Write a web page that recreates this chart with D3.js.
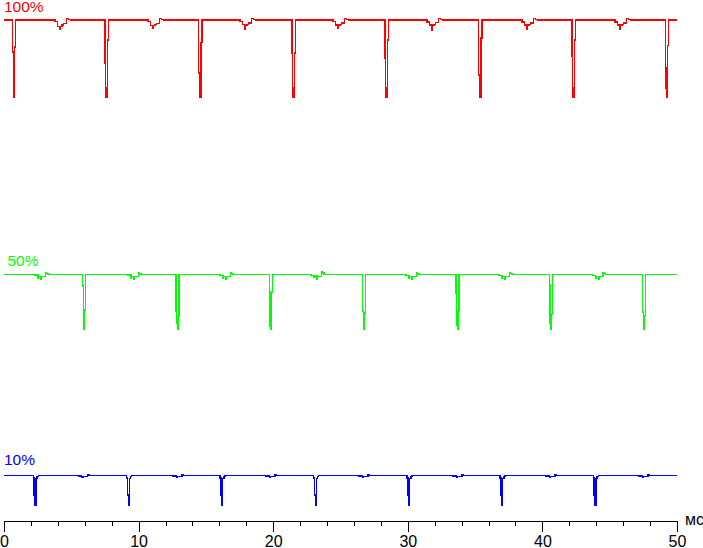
<!DOCTYPE html>
<html>
<head>
<meta charset="utf-8">
<script src="https://cdn.jsdelivr.net/npm/d3@7"></script>
<style>
  html, body { margin: 0; padding: 0; background: #fff; }
  svg { display: block; }
  text { font-family: "Liberation Sans", Arial, sans-serif; }
</style>
</head>
<body>
<svg id="chart" width="703" height="548"></svg>
<script>
// ---- data (time in ms, brightness in %) ----
const seriesNames = ["100%", "50%", "10%"];
const seriesColors = ["#ff0000", "#00ff00", "#0000ff"];

const red100 = [
  [0, 100],
  [0.617, 93.7], [0.667, 93.7], [0.707, 84.8], [0.795, 94.7], [0.870, 100],
  [3.789, 99.66], [3.960, 98.67], [4.160, 98.16], [4.183, 98.67], [4.309, 99.0], [4.406, 99.35], [4.658, 100.34], [4.777, 100.14], [4.978, 100],
  [7.504, 91.5], [7.554, 86.5], [7.594, 84.8], [7.674, 96.0], [7.754, 100],
  [10.698, 99.66], [10.869, 98.9], [11.069, 98.4], [11.092, 98.9], [11.218, 99.1], [11.315, 99.35], [11.567, 100.34], [11.686, 100.14], [11.887, 100],
  [14.465, 89.5], [14.515, 86.5], [14.555, 84.8], [14.635, 95.5], [14.715, 100],
  [17.533, 99.7], [17.704, 99.1], [17.904, 98.2], [17.927, 99.0], [18.053, 99.1], [18.150, 99.45], [18.402, 100.34], [18.521, 100.14], [18.722, 100],
  [21.397, 93.5], [21.447, 86.5], [21.487, 84.8], [21.567, 93.5], [21.647, 100],
  [24.443, 99.7], [24.614, 99.0], [24.814, 98.3], [24.837, 98.9], [24.963, 99.1], [25.060, 99.4], [25.312, 100.34], [25.431, 100.14], [25.632, 100],
  [28.306, 92.5], [28.356, 86.5], [28.396, 84.8], [28.476, 96.0], [28.556, 100],
  [31.427, 99.6], [31.598, 99.0], [31.798, 98.0], [31.821, 99.0], [31.947, 99.1], [32.044, 99.5], [32.296, 100.34], [32.415, 100.14], [32.616, 100],
  [35.267, 89.1], [35.317, 86.5], [35.357, 84.8], [35.437, 96.4], [35.517, 100],
  [38.484, 99.6], [38.655, 99.0], [38.855, 98.2], [38.878, 99.0], [39.004, 99.1], [39.101, 99.45], [39.353, 100.34], [39.472, 100.14], [39.673, 100],
  [42.199, 92.9], [42.249, 86.5], [42.289, 84.8], [42.369, 96.0], [42.449, 100],
  [45.394, 99.6], [45.565, 99.0], [45.765, 98.2], [45.788, 99.0], [45.914, 99.1], [46.011, 99.45], [46.263, 100.34], [46.382, 100.14], [46.583, 100],
  [49.131, 90.5], [49.181, 86.5], [49.221, 84.8], [49.301, 95.0], [49.381, 100],
  [50, 100]
];

const green50 = [
  [0, 49.64],
  [2.303, 49.50], [2.526, 48.85], [2.578, 49.17], [2.749, 48.70], [2.786, 49.17], [3.083, 50.04], [3.157, 49.80], [3.269, 49.64],
  [5.847, 47.33], [5.897, 39.86], [5.947, 38.67], [5.997, 42.57], [6.067, 49.64],
  [9.212, 49.50], [9.435, 48.9], [9.487, 49.2], [9.658, 48.75], [9.695, 49.2], [9.992, 50.04], [10.066, 49.8], [10.178, 49.64],
  [12.779, 42.4], [12.829, 40.0], [12.879, 38.67], [12.929, 41.5], [12.999, 49.64],
  [16.048, 49.45], [16.271, 48.85], [16.323, 49.17], [16.494, 48.7], [16.531, 49.17], [16.828, 50.04], [16.902, 49.8], [17.014, 49.64],
  [19.710, 46.2], [19.760, 39.3], [19.810, 38.67], [19.860, 46.0], [19.930, 49.64],
  [22.808, 49.45], [23.031, 49.1], [23.083, 49.3], [23.254, 48.7], [23.291, 49.2], [23.588, 50.1], [23.662, 49.9], [23.774, 49.64],
  [26.649, 42.4], [26.699, 40.0], [26.749, 38.67], [26.799, 42.0], [26.869, 49.64],
  [29.866, 49.45], [30.089, 48.9], [30.141, 49.2], [30.312, 48.75], [30.349, 49.2], [30.646, 50.04], [30.720, 49.8], [30.832, 49.64],
  [33.581, 45.9], [33.631, 39.5], [33.681, 38.67], [33.731, 42.5], [33.801, 49.64],
  [36.776, 49.45], [36.999, 48.9], [37.051, 49.2], [37.222, 48.75], [37.259, 49.2], [37.556, 50.04], [37.630, 49.8], [37.742, 49.64],
  [40.513, 47.5], [40.563, 40.0], [40.613, 38.67], [40.663, 41.8], [40.733, 49.64],
  [43.737, 49.45], [43.960, 48.9], [44.012, 49.2], [44.183, 48.75], [44.220, 49.2], [44.517, 50.04], [44.591, 49.8], [44.703, 49.64],
  [47.452, 42.2], [47.502, 39.8], [47.552, 38.67], [47.602, 41.5], [47.672, 49.64],
  [50, 49.64]
];

const blue10 = [
  [0, 9.84],
  [2.177, 9.31], [2.247, 5.9], [2.307, 3.82], [2.367, 9.2], [2.467, 9.65], [2.547, 9.84],
  [5.520, 9.70], [5.765, 9.45], [5.869, 9.56], [6.189, 10.04], [6.315, 9.84],
  [9.116, 9.31], [9.186, 5.9], [9.246, 3.82], [9.306, 9.2], [9.406, 9.65], [9.486, 9.84],
  [12.556, 9.70], [12.801, 9.45], [12.905, 9.56], [13.225, 10.04], [13.351, 9.84],
  [16.048, 9.31], [16.118, 5.9], [16.178, 3.82], [16.238, 9.2], [16.338, 9.65], [16.418, 9.84],
  [19.465, 9.70], [19.710, 9.45], [19.814, 9.56], [20.134, 10.04], [20.260, 9.84],
  [23.009, 9.31], [23.079, 5.9], [23.139, 3.82], [23.199, 9.2], [23.299, 9.65], [23.379, 9.84],
  [26.374, 9.70], [26.619, 9.45], [26.723, 9.56], [27.043, 10.04], [27.169, 9.84],
  [29.941, 9.31], [30.011, 5.9], [30.071, 3.82], [30.131, 9.2], [30.231, 9.65], [30.311, 9.84],
  [33.358, 9.70], [33.603, 9.45], [33.707, 9.56], [34.027, 10.04], [34.153, 9.84],
  [36.850, 9.31], [36.920, 5.9], [36.980, 3.82], [37.040, 9.2], [37.140, 9.65], [37.220, 9.84],
  [40.267, 9.70], [40.512, 9.45], [40.616, 9.56], [40.936, 10.04], [41.062, 9.84],
  [43.782, 9.31], [43.852, 5.9], [43.912, 3.82], [43.972, 9.2], [44.072, 9.65], [44.152, 9.84],
  [47.177, 9.70], [47.422, 9.45], [47.526, 9.56], [47.846, 10.04], [47.972, 9.84],
  [50, 9.84]
];

const majorTicks = [0, 10, 20, 30, 40, 50];
const minorTicks = [2, 4, 6, 8, 12, 14, 16, 18, 22, 24, 26, 28, 32, 34, 36, 38, 42, 44, 46, 48];
const axisUnit = "мс";

// ---- drawing ----
const svg = d3.select("#chart");
const x = d3.scaleLinear().domain([0, 50]).range([4, 677]);
const y = d3.scaleLinear().domain([0, 100]).range([525, 20]);
const axisY = 521;

const line = d3.line()
  .x(d => x(d[0]))
  .y(d => y(d[1]))
  .curve(d3.curveStepAfter);

const allSeries = [red100, green50, blue10];
const labelPos = [[4, 12], [7.5, 265.5], [4, 464.5]];

allSeries.forEach((s, i) => {
  svg.append("path")
    .datum(s)
    .attr("d", line)
    .attr("fill", "none")
    .attr("stroke", seriesColors[i])
    .attr("stroke-width", 1.5)
    .attr("shape-rendering", "crispEdges");
  svg.append("text")
    .attr("x", labelPos[i][0])
    .attr("y", labelPos[i][1])
    .attr("fill", seriesColors[i])
    .attr("font-size", 15.5)
    .text(seriesNames[i]);
});

// minor ticks
const minorAxis = d3.axisBottom(x)
  .tickValues(minorTicks)
  .tickSize(5)
  .tickSizeOuter(0)
  .tickFormat("");
const gMinor = svg.append("g")
  .attr("transform", `translate(0,${axisY})`)
  .call(minorAxis);
gMinor.select(".domain").remove();

const majorAxis = d3.axisBottom(x)
  .tickValues(majorTicks)
  .tickSize(11)
  .tickSizeOuter(0)
  .tickPadding(4)
  .tickFormat(d3.format("d"));
const gMajor = svg.append("g")
  .attr("transform", `translate(0,${axisY})`)
  .call(majorAxis);

svg.selectAll(".tick line, .domain")
  .attr("stroke", "#000")
  .attr("stroke-width", 1)
  .attr("shape-rendering", "crispEdges");
gMajor.selectAll(".tick text")
  .attr("font-size", 16)
  .attr("fill", "#000")
  .attr("font-family", "Liberation Sans, Arial, sans-serif");

svg.append("text")
  .attr("x", 685)
  .attr("y", 525)
  .attr("font-size", 16)
  .attr("fill", "#000")
  .text(axisUnit);
</script>
</body>
</html>
